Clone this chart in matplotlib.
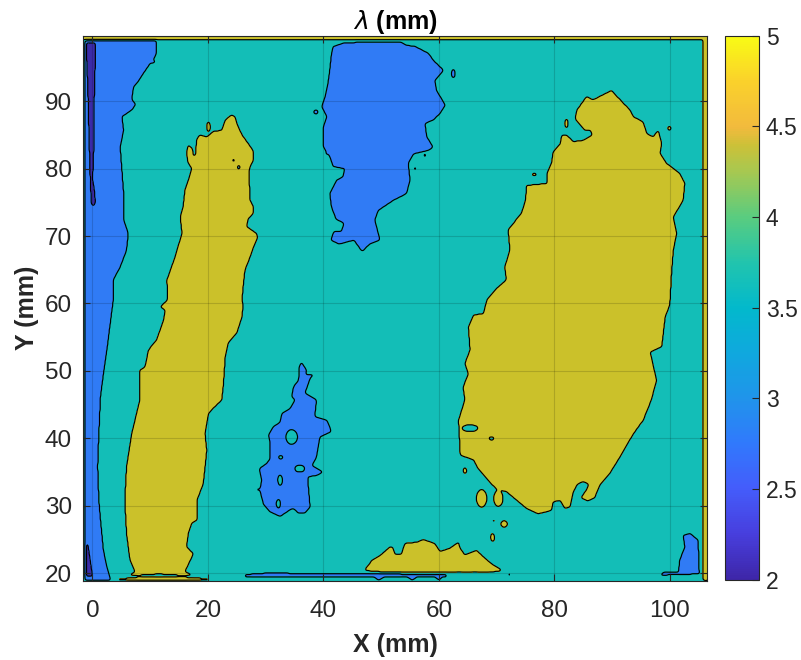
import numpy as np
import matplotlib
matplotlib.use("Agg")
import matplotlib.pyplot as plt
from matplotlib.path import Path
from matplotlib.colors import LinearSegmentedColormap, Normalize
import matplotlib.cm as cm

plt.rcParams['font.family'] = ['Liberation Sans', 'DejaVu Sans']

# ---------------- data ----------------
x_limits = (-1.6, 106.5)
y_limits = (18.9, 99.7)
x_ticks = [0, 20, 40, 60, 80, 100]
y_ticks = [20, 30, 40, 50, 60, 70, 80, 90]
cbar_ticks = [2, 2.5, 3, 3.5, 4, 4.5, 5]
cbar_labels = ['2', '2.5', '3', '3.5', '4', '4.5', '5']
clim = (2.0, 5.0)

# lambda level of each region (mm)
lam_dark, lam_blue, lam_teal, lam_olive, lam_yellow = 2.2, 2.8, 3.5, 4.2, 4.9
levels = [1.9, 2.5, 3.15, 3.85, 4.55, 5.2]

# region outlines (X mm, Y mm)
left_blue = [(-1.35, 99.0), (11.1, 99.0), (11.1, 97.1), (10.5, 96.1), (11.1, 95.8), (10.0, 95.6),
             (8.8, 94.1), (7.9, 92.9), (7.1, 92.1), (6.8, 90.2), (7.5, 89.5), (6.8, 88.7),
             (5.1, 87.7), (5.4, 85.7), (4.8, 83.2), (5.1, 79.8), (5.4, 76.3), (5.4, 72.4),
             (6.2, 70.4), (5.9, 67.9), (4.8, 65.4), (3.6, 63.5), (3.6, 60.5), (3.0, 56.5),
             (2.5, 53.1), (1.9, 49.6), (1.4, 46.2), (1.1, 40.7), (0.9, 35.8), (1.1, 30.8),
             (1.5, 26.9), (1.9, 23.4), (2.5, 20.9), (3.0, 19.5), (3.2, 18.9), (-1.35, 18.9)]
dark_top = [(-1.0, 98.6), (0.5, 98.6), (0.45, 95.0), (0.3, 90.0), (0.3, 85.0), (0.1, 80.0),
            (0.0, 78.5), (0.3, 77.0), (0.5, 75.0), (0.2, 74.4), (-0.2, 74.8), (-0.3, 77.0),
            (-0.4, 79.0), (-0.6, 85.0), (-0.8, 92.0), (-1.0, 96.0)]
dark_bottom = [(-1.0, 24.4), (-0.8, 24.4), (-0.1, 20.2), (0.0, 19.6), (-1.1, 19.6)]
top_blue = [(41.7, 98.1), (43.4, 98.6), (47.5, 98.8), (53.3, 98.8), (54.4, 98.3), (55.9, 98.1),
            (58.2, 97.1), (59.0, 96.1), (60.8, 94.6), (59.3, 93.1), (59.6, 91.6), (61.1, 89.4),
            (60.2, 88.2), (59.0, 87.2), (57.6, 86.7), (57.9, 84.7), (59.0, 83.2), (58.2, 82.7),
            (55.6, 82.2), (54.7, 80.8), (55.0, 78.3), (54.4, 76.3), (52.1, 75.3), (49.5, 73.8),
            (48.9, 72.4), (49.8, 69.4), (48.0, 68.8), (46.7, 67.7), (45.3, 69.4), (42.7, 68.8),
            (41.3, 69.4), (41.8, 70.7), (43.1, 70.7), (43.6, 71.9), (42.2, 72.5), (41.4, 74.3),
            (41.1, 76.3), (42.3, 78.3), (43.4, 78.8), (43.7, 80.0), (41.7, 80.3), (41.1, 81.8),
            (40.0, 83.2), (40.0, 86.2), (40.6, 87.7), (39.7, 89.2), (40.3, 90.7), (40.8, 92.7),
            (41.1, 94.6), (41.4, 97.1)]
mid_blue = [(36.2, 51.3), (37.1, 50.1), (36.9, 49.4), (38.3, 49.4), (37.7, 48.9), (36.8, 46.7),
            (38.8, 45.7), (38.5, 43.2), (40.6, 42.7), (41.4, 41.0), (39.4, 40.2), (39.1, 38.7),
            (38.8, 37.2), (38.0, 36.0), (40.0, 35.0), (38.8, 34.5), (37.4, 34.3), (37.4, 32.8),
            (37.7, 29.8), (36.8, 28.9), (35.7, 28.9), (34.8, 29.6), (34.2, 29.4), (32.5, 28.4),
            (30.8, 29.1), (29.6, 30.3), (29.0, 32.3), (29.3, 33.8), (28.9, 35.5), (30.2, 36.3),
            (30.8, 37.0), (30.8, 39.2), (30.5, 40.5), (31.3, 41.7), (32.5, 42.4), (32.8, 43.7),
            (34.2, 44.4), (35.1, 45.7), (34.5, 46.2), (34.8, 47.6), (35.7, 48.6), (35.8, 50.6)]
bottom_right_blue = [(102.3, 25.6), (103.5, 25.9), (104.9, 24.9), (105.1, 19.9), (98.3, 19.7),
                     (98.9, 20.1), (101.5, 20.2), (101.7, 21.9), (102.6, 23.9)]
bottom_blue_strip = [(26.4, 19.8), (30.0, 20.0), (40.0, 19.95), (47.0, 19.9), (55.0, 19.85),
                     (61.3, 19.75), (61.3, 19.45), (60.5, 19.4), (60.0, 18.95), (59.4, 19.4),
                     (56.1, 19.4), (55.4, 18.95), (54.6, 19.4), (50.4, 19.4), (49.6, 18.95),
                     (48.8, 19.4), (40.0, 19.45), (26.4, 19.5)]
left_olive = [(24.1, 88.0), (24.7, 87.7), (25.0, 86.7), (25.9, 85.0), (27.0, 83.7), (27.8, 82.7),
              (27.9, 81.3), (27.3, 80.3), (27.1, 79.6), (27.3, 75.3), (27.9, 74.3), (27.9, 73.4),
              (27.0, 72.6), (26.7, 71.4), (28.4, 70.4), (28.6, 69.8), (27.9, 68.4), (27.3, 66.9),
              (26.4, 64.9), (26.1, 62.5), (25.9, 60.5), (26.1, 59.8), (25.9, 58.0), (25.0, 55.6),
              (23.5, 54.1), (23.0, 52.1), (22.7, 48.1), (22.4, 45.7), (21.2, 44.7), (20.1, 43.7),
              (19.5, 40.7), (19.8, 38.2), (19.2, 33.3), (18.1, 30.8), (18.1, 27.9), (17.2, 27.4),
              (16.6, 25.9), (16.3, 23.9), (17.5, 22.9), (16.0, 20.2), (17.6, 19.7), (14.0, 19.75),
              (11.5, 19.9), (9.0, 19.75), (6.3, 19.7), (7.4, 20.2), (6.5, 21.9), (5.9, 25.9),
              (5.6, 30.8), (5.9, 35.8), (6.8, 40.7), (8.2, 45.7), (8.2, 50.1), (9.1, 50.6),
              (9.7, 53.1), (11.1, 54.6), (12.3, 57.5), (12.6, 59.0), (11.7, 59.5), (13.0, 60.5),
              (12.9, 63.5), (14.3, 66.9), (15.5, 70.4), (15.2, 72.8), (15.7, 74.3), (16.0, 76.8),
              (16.6, 78.3), (17.2, 80.0), (16.5, 81.0), (16.3, 82.5), (16.6, 83.5), (17.3, 83.0),
              (17.5, 81.8), (17.9, 82.2), (18.0, 84.3), (18.6, 85.0), (19.8, 84.7), (20.9, 85.5),
              (22.4, 85.7), (23.0, 87.2)]
right_olive = [(89.9, 91.6), (91.4, 90.2), (93.1, 88.7), (93.7, 87.7), (95.4, 86.9), (96.0, 85.2),
               (97.1, 84.7), (98.0, 85.7), (98.6, 83.7), (98.3, 82.3), (99.4, 80.8), (101.7, 79.3),
               (102.6, 77.8), (102.3, 75.3), (100.6, 72.8), (101.2, 70.4), (100.6, 67.9),
               (100.3, 64.5), (100.0, 59.8), (99.2, 58.0), (98.6, 53.6), (96.6, 52.8), (97.7, 48.6),
               (96.8, 45.7), (95.4, 42.7), (93.7, 40.7), (91.4, 37.3), (89.6, 34.8), (87.9, 33.1),
               (87.0, 31.2), (85.8, 30.7), (84.6, 31.2), (85.5, 32.3), (86.0, 33.2), (85.0, 33.6),
               (84.0, 33.2), (83.3, 32.1), (82.7, 29.8), (81.8, 29.6), (81.0, 30.8), (79.8, 30.6),
               (79.5, 29.3), (77.2, 28.8), (75.2, 29.6), (73.5, 30.8), (71.7, 32.1), (70.0, 32.4),
               (66.8, 35.5), (66.0, 36.8), (63.7, 37.5), (63.4, 42.7), (64.5, 45.7), (64.2, 47.6),
               (65.1, 49.6), (64.5, 51.1), (65.4, 53.1), (65.1, 56.5), (66.0, 58.3), (67.7, 58.5),
               (68.3, 60.5), (69.7, 62.0), (71.7, 63.5), (71.4, 65.4), (72.3, 67.9), (72.0, 70.9),
               (72.9, 71.9), (74.3, 73.4), (75.0, 75.3), (75.2, 77.5), (78.7, 77.8), (78.7, 79.3),
               (79.5, 80.8), (79.8, 82.5), (81.0, 83.7), (81.3, 85.0), (82.1, 85.0), (83.3, 84.0),
               (85.0, 84.2), (86.6, 85.0), (86.2, 85.7), (85.3, 85.7), (83.6, 87.4), (83.9, 88.7),
               (85.6, 90.7), (86.7, 90.2)]
bottom_olive = [(47.1, 20.4), (48.4, 21.9), (49.8, 22.6), (51.5, 23.9), (52.0, 23.9), (52.4, 22.8),
                (53.5, 22.8), (54.1, 24.4), (56.2, 24.6), (57.3, 25.0), (59.3, 24.4), (60.2, 23.2),
                (61.9, 23.7), (63.4, 24.6), (63.6, 23.8), (64.5, 22.7), (66.5, 23.4), (68.0, 22.2),
                (69.4, 21.2), (71.1, 20.4), (69.0, 20.15), (60.0, 20.2), (50.0, 20.2)]
bottom_olive_sliver = [(4.3, 19.15), (8.0, 19.4), (12.0, 19.45), (16.0, 19.4), (20.0, 19.2),
                       (21.0, 18.9), (4.3, 18.9)]
top_border = [(-1.6, 99.15), (106.5, 99.15), (106.5, 99.7), (-1.6, 99.7)]
top_border_hi = [(-1.6, 99.5), (106.5, 99.5), (106.5, 99.7), (-1.6, 99.7)]
right_border = [(105.8, 18.9), (106.5, 18.9), (106.5, 99.7), (105.8, 99.7)]
right_border_hi = [(106.2, 18.9), (106.5, 18.9), (106.5, 99.7), (106.2, 99.7)]

# small elliptical spots: (value, X, Y, rx, ry)
spots = [
    # teal holes in the middle blue blob
    (lam_teal, 34.5, 40.2, 1.0, 1.1), (lam_teal, 35.9, 35.5, 0.9, 0.5),
    (lam_teal, 32.5, 33.8, 0.4, 0.8), (lam_teal, 32.2, 30.3, 0.35, 0.7),
    (lam_teal, 32.6, 37.2, 0.4, 0.3),
    # small blue islands
    (lam_blue, 57.6, 93.4, 0.3, 0.65), (lam_blue, 62.5, 94.1, 0.3, 0.65),
    (lam_blue, 61.8, 92.9, 0.2, 0.2), (lam_blue, 38.7, 88.4, 0.4, 0.3),
    (lam_blue, 40.6, 82.3, 0.2, 0.25), (lam_blue, 57.6, 82.0, 0.2, 0.25),
    (lam_blue, 55.9, 80.0, 0.2, 0.25), (lam_blue, 28.7, 32.4, 0.4, 0.15),
    (lam_blue, 30.5, 43.2, 0.12, 0.4),
    (lam_blue, 63.5, 19.8, 0.45, 0.15), (lam_blue, 66.2, 19.8, 0.45, 0.15),
    (lam_blue, 69.2, 19.8, 0.4, 0.15), (lam_blue, 72.2, 19.8, 0.4, 0.15),
    (lam_blue, 75.6, 19.8, 0.3, 0.15), (lam_blue, 80.2, 19.8, 0.2, 0.15),
    # teal holes in olive regions
    (lam_teal, 65.4, 41.5, 1.4, 0.5), (lam_teal, 69.1, 40.0, 0.5, 0.25),
    (lam_teal, 24.4, 81.2, 0.2, 0.25), (lam_teal, 25.3, 80.2, 0.25, 0.3),
    (lam_teal, 22.7, 82.6, 0.15, 0.15), (lam_teal, 26.1, 81.8, 0.15, 0.15),
    (lam_teal, 85.6, 83.6, 0.15, 0.2), (lam_teal, 81.3, 83.5, 0.15, 0.2),
    # small olive islands
    (lam_olive, 20.1, 86.2, 0.3, 0.75), (lam_olive, 17.6, 86.0, 0.15, 0.2),
    (lam_olive, 22.7, 89.4, 0.15, 0.2), (lam_olive, 82.1, 86.7, 0.3, 0.65),
    (lam_olive, 87.2, 86.8, 0.15, 0.2), (lam_olive, 96.6, 87.8, 0.15, 0.2),
    (lam_olive, 99.9, 86.0, 0.3, 0.3), (lam_olive, 76.5, 79.1, 0.45, 0.2),
    (lam_olive, 64.5, 35.2, 0.3, 0.45), (lam_olive, 67.4, 31.1, 0.9, 1.3),
    (lam_olive, 70.3, 31.1, 0.8, 1.2), (lam_olive, 71.3, 27.3, 0.6, 0.5),
    (lam_olive, 69.5, 27.8, 0.12, 0.5), (lam_olive, 67.4, 26.4, 0.4, 0.12),
    (lam_olive, 69.3, 25.3, 0.35, 0.6), (lam_olive, 103.0, 29.0, 0.1, 0.15),
]

region_layers = [
    (lam_blue, left_blue), (lam_blue, top_blue), (lam_blue, mid_blue),
    (lam_blue, bottom_right_blue), (lam_blue, bottom_blue_strip),
    (lam_dark, dark_top), (lam_dark, dark_bottom),
    (lam_olive, left_olive), (lam_olive, right_olive), (lam_olive, bottom_olive),
    (lam_olive, bottom_olive_sliver),
]
border_layers = [
    (lam_olive, top_border), (lam_yellow, top_border_hi),
    (lam_olive, right_border), (lam_yellow, right_border_hi),
]

# ---------------- build the field on a grid ----------------
step = 0.12
xg = np.arange(x_limits[0], x_limits[1] + step, step)
yg = np.arange(y_limits[0], y_limits[1] + step, step)
XX, YY = np.meshgrid(xg, yg)
pts = np.column_stack([XX.ravel(), YY.ravel()])

field = np.full(XX.shape, lam_teal)
for val, poly in region_layers:
    m = Path(poly).contains_points(pts).reshape(XX.shape)
    field[m] = val
for val, cx, cy, rx, ry in spots:
    m = ((XX - cx) / rx) ** 2 + ((YY - cy) / ry) ** 2 <= 1.0
    field[m] = val
for val, poly in border_layers:
    m = Path(poly).contains_points(pts).reshape(XX.shape)
    field[m] = val


def smooth(a, sigma):
    r = int(3 * sigma) + 1
    k = np.exp(-0.5 * (np.arange(-r, r + 1) / sigma) ** 2)
    k /= k.sum()
    p = np.pad(a, ((0, 0), (r, r)), mode='edge')
    a = np.apply_along_axis(lambda v: np.convolve(v, k, mode='valid'), 1, p)
    p = np.pad(a, ((r, r), (0, 0)), mode='edge')
    a = np.apply_along_axis(lambda v: np.convolve(v, k, mode='valid'), 0, p)
    return a


field = smooth(field, 1.4)

# ---------------- colormap (parula-like) ----------------
parula_pos = [0.0, 0.083, 0.167, 0.25, 0.333, 0.417, 0.5, 0.583, 0.667, 0.75, 0.8, 0.833, 0.917, 1.0]
parula_rgb = [(0.2422, 0.1504, 0.6603), (0.2800, 0.2450, 0.8700), (0.2670, 0.3630, 0.9830),
              (0.1900, 0.4750, 0.9900), (0.1250, 0.5800, 0.9200), (0.0600, 0.6600, 0.8700),
              (0.0100, 0.7250, 0.8000), (0.1300, 0.7700, 0.6800), (0.3500, 0.8000, 0.5000),
              (0.6500, 0.7850, 0.3200), (0.8000, 0.7550, 0.2200), (0.9500, 0.7300, 0.2400),
              (0.9800, 0.8200, 0.1700), (0.9769, 0.9839, 0.0805)]
parula = LinearSegmentedColormap.from_list('parula', list(zip(parula_pos, parula_rgb)))
fill_colors = ['#3B2BA8', '#307BF5', '#13BEB7', '#CBC12A', '#F2DF21']

# ---------------- figure ----------------
fig = plt.figure(figsize=(8.01, 6.60), dpi=100)
ax = fig.add_axes([0.1039, 0.1203, 0.7792, 0.8255])
ax.contourf(XX, YY, field, levels=levels, colors=fill_colors)
ax.contour(XX, YY, field, levels=levels[1:-1], colors='k', linewidths=0.85)

ax.set_xlim(*x_limits)
ax.set_ylim(*y_limits)
ax.set_xticks(x_ticks)
ax.set_yticks(y_ticks)
ax.grid(True, color='k', alpha=0.15, linewidth=0.8)
ax.set_axisbelow(False)
tick_col = '#262626'
ax.tick_params(direction='in', length=5, width=0.8, colors=tick_col, labelsize=17.5,
               top=True, right=True)
ax.tick_params(axis='x', pad=14)
ax.tick_params(axis='y', pad=8)
for s in ax.spines.values():
    s.set_color(tick_col)
    s.set_linewidth(0.8)
ax.set_xlabel('X (mm)', fontsize=18, fontweight='bold', color=tick_col, labelpad=8)
ax.set_ylabel('Y (mm)', fontsize=18, fontweight='bold', color=tick_col, labelpad=4)
ax.set_title(r'$\lambda$ (mm)', fontsize=18, fontweight='bold', color='k', pad=5)

cax = fig.add_axes([0.9056, 0.1217, 0.0416, 0.824])
sm = cm.ScalarMappable(norm=Normalize(*clim), cmap=parula)
cb = fig.colorbar(sm, cax=cax, ticks=cbar_ticks)
cb.ax.set_yticklabels(cbar_labels)
cb.ax.tick_params(direction='in', length=5, width=0.8, colors=tick_col, labelsize=16.5, pad=5)
cb.outline.set_edgecolor(tick_col)
cb.outline.set_linewidth(0.8)

fig.savefig('out.png', dpi=100)
